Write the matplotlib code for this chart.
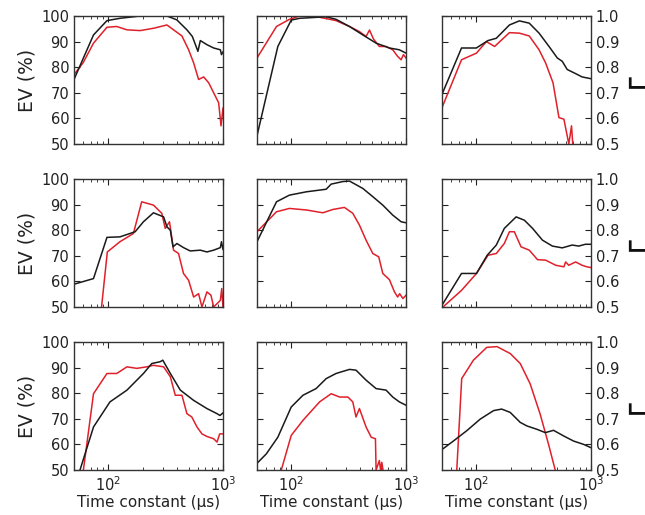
import numpy as np
import matplotlib
matplotlib.use('Agg')
import matplotlib.pyplot as plt
from matplotlib.ticker import FuncFormatter

# time constants (us) and EV values
# row 1
p11_bk_t = [50, 74, 97, 126, 189, 324, 395, 484, 540, 604, 634, 724, 829, 948, 970, 1000]
p11_bk = [75.2, 92.6, 98.2, 99.1, 100, 100, 98.5, 94.6, 92, 86.2, 90.4, 88.8, 87.5, 86.8, 84.9, 86]
p11_rd_t = [50, 60, 74, 97, 118, 145, 189, 247, 324, 370, 438, 501, 554, 612, 678, 750, 829, 916, 961, 1000]
p11_rd = [77.1, 81.7, 89.4, 95.6, 95.9, 94.6, 94.3, 95.2, 96.5, 94.6, 92.2, 86.8, 81.7, 75.2, 76.2, 73.9, 70, 66.1, 57.1, 64]

p12_bk_t = [50, 76, 99.5, 118, 201, 245, 321, 420, 548, 716, 875, 1000]
p12_bk = [53.2, 88.1, 98.4, 99.1, 99.7, 98.7, 95.9, 92.6, 89.4, 87.5, 86.8, 85.5]
p12_rd_t = [50, 74, 96, 118, 176, 245, 321, 392, 448, 480, 520, 585, 670, 766, 846, 906, 950, 1000]
p12_rd = [83.6, 95.9, 98.7, 100, 99.5, 98.2, 95.9, 93.9, 92, 94.5, 91, 88.1, 88.1, 86.8, 84.2, 82.9, 84.9, 83.6]

p13_bk_t = [50, 74, 99.7, 126, 149, 194, 237, 289, 352, 430, 508, 561, 620, 733, 836, 1000]
p13_bk = [0.694, 0.875, 0.875, 0.904, 0.913, 0.965, 0.981, 0.972, 0.933, 0.881, 0.836, 0.823, 0.791, 0.775, 0.762, 0.755]
p13_rd_t = [50, 74, 100, 122, 144, 194, 237, 289, 352, 402, 466, 525, 580, 640, 676, 700]
p13_rd = [0.642, 0.829, 0.855, 0.9, 0.881, 0.935, 0.933, 0.922, 0.868, 0.816, 0.739, 0.603, 0.597, 0.5, 0.571, 0.47]

# row 2
p21_bk_t = [50, 74, 97, 126, 171, 202, 247, 303, 324, 347, 366, 396, 452, 517, 634, 724, 829, 948, 970, 1000]
p21_bk = [58.9, 61.1, 77.2, 77.4, 79.4, 83.3, 86.8, 85.2, 81.3, 80, 73.5, 74.8, 73.2, 71.9, 72.2, 71.5, 72.2, 73.2, 75.5, 72.5]
p21_rd_t = [87, 97.7, 126, 165, 195, 247, 292, 313, 341, 370, 409, 452, 501, 554, 612, 655, 724, 785, 829, 948, 975, 1000]
p21_rd = [50, 71.5, 75.5, 78.7, 91.1, 89.8, 86.6, 80.7, 83.3, 72.2, 70.9, 63.1, 60.4, 53.9, 55.2, 50, 55.9, 54.6, 50, 52.6, 57.2, 50]

p22_bk_t = [50, 74, 96, 135, 201, 222, 281, 321, 420, 513, 627, 766, 906, 1000]
p22_bk = [75.5, 91.1, 93.7, 95, 96, 98, 99, 99.2, 96.3, 93.1, 89.8, 85.9, 83.3, 82.9]
p22_rd_t = [50, 74, 96, 135, 188, 230, 290, 343, 392, 448, 513, 578, 627, 716, 793, 846, 880, 940, 1000]
p22_rd = [79.4, 87.2, 88.5, 87.9, 86.8, 88.1, 88.9, 86.6, 82, 76.1, 70.9, 69.6, 63.1, 60.7, 55.9, 53.9, 55.2, 53.3, 54.6]

p23_bk_t = [50, 74, 100, 124, 149, 175, 222, 262, 309, 377, 460, 561, 685, 782, 893, 1000]
p23_bk = [0.507, 0.631, 0.631, 0.702, 0.742, 0.807, 0.852, 0.839, 0.807, 0.761, 0.738, 0.731, 0.742, 0.738, 0.745, 0.745]
p23_rd_t = [51, 74, 100, 126, 149, 175, 194, 214, 245, 289, 341, 402, 492, 580, 600, 640, 733, 836, 920, 1000]
p23_rd = [0.5, 0.565, 0.631, 0.702, 0.709, 0.748, 0.794, 0.794, 0.735, 0.722, 0.685, 0.683, 0.663, 0.657, 0.676, 0.663, 0.676, 0.663, 0.657, 0.654]

# row 3
p31_bk_t = [56.4, 74, 103, 145, 202, 239, 283, 298, 347, 424, 554, 724, 887, 940, 1000]
p31_bk = [50, 66.8, 76.6, 81.2, 87.7, 91.6, 92.3, 92.9, 87.7, 81.2, 77.2, 74, 72, 71.3, 72.3]
p31_rd_t = [60.4, 74, 97, 118, 145, 177, 216, 247, 303, 347, 383, 438, 484, 534, 593, 655, 724, 829, 887, 935, 1000]
p31_rd = [50, 79.8, 87.7, 87.7, 90.3, 89.7, 90.3, 90.9, 90.3, 86.4, 79.2, 79.2, 72, 70.7, 66.8, 64.1, 63.1, 62.2, 60.9, 64.1, 64.1]

p32_bk_t = [50, 60.3, 76, 99.5, 126, 164, 201, 245, 321, 366, 448, 548, 670, 766, 875, 1000]
p32_bk = [52.6, 56.3, 62.8, 74.6, 79.2, 81.8, 85.7, 87.7, 89.3, 89, 85.1, 81.8, 81.2, 78.5, 76.6, 75.3]
p32_rd_t = [81.5, 99.5, 126, 176, 222, 263, 311, 343, 366, 392, 448, 497, 541, 548, 585, 600, 615, 630]
p32_rd = [50, 63.5, 69.4, 76.6, 79.8, 78.5, 78.5, 76.6, 70.7, 74, 66.8, 62.8, 62.2, 50, 53.7, 50, 53, 50]

p33_bk_t = [50, 62.8, 82, 108, 141, 166, 197, 241, 276, 337, 399, 471, 577, 705, 863, 1000]
p33_bk = [0.58, 0.613, 0.653, 0.699, 0.732, 0.738, 0.725, 0.686, 0.672, 0.659, 0.646, 0.655, 0.633, 0.613, 0.6, 0.587]
p33_rd_t = [67.3, 74.3, 94, 123, 151, 197, 241, 294, 360, 426, 487]
p33_rd = [0.5, 0.857, 0.929, 0.979, 0.982, 0.955, 0.916, 0.837, 0.718, 0.6, 0.5]

panels = [
    [(p11_bk_t, p11_bk, p11_rd_t, p11_rd), (p12_bk_t, p12_bk, p12_rd_t, p12_rd), (p13_bk_t, p13_bk, p13_rd_t, p13_rd)],
    [(p21_bk_t, p21_bk, p21_rd_t, p21_rd), (p22_bk_t, p22_bk, p22_rd_t, p22_rd), (p23_bk_t, p23_bk, p23_rd_t, p23_rd)],
    [(p31_bk_t, p31_bk, p31_rd_t, p31_rd), (p32_bk_t, p32_bk, p32_rd_t, p32_rd), (p33_bk_t, p33_bk, p33_rd_t, p33_rd)],
]

W, H = 645, 515
col_left = [74, 257, 442]
row_top = [16, 179, 342]
aw, ah = 149, 128

fig = plt.figure(figsize=(W / 100, H / 100), dpi=100)

for r in range(3):
    for c in range(3):
        ax = fig.add_axes([col_left[c] / W, (H - row_top[r] - ah) / H, aw / W, ah / H])
        bt, bv, rt, rv = panels[r][c]
        ax.plot(rt, rv, color='#e0202a', lw=1.1)
        ax.plot(bt, bv, color='#1a1a1a', lw=1.1)
        ax.set_xscale('log')
        ax.set_xlim(50, 1000)
        if c == 2:
            ax.set_ylim(0.5, 1.0)
            ax.set_yticks([0.5, 0.6, 0.7, 0.8, 0.9, 1.0])
            ax.yaxis.set_major_formatter(FuncFormatter(lambda v, p: '%.1f' % v))
        else:
            ax.set_ylim(50, 100)
            ax.set_yticks([50, 60, 70, 80, 90, 100])
        ax.tick_params(which='both', direction='in', top=True, right=True,
                       labelsize=10.5, colors='#222222')
        ax.tick_params(which='major', length=4)
        ax.tick_params(which='minor', length=2)
        ax.tick_params(axis='y', labelleft=(c == 0), labelright=(c == 2))
        ax.tick_params(axis='x', labelbottom=(r == 2))
        for s in ax.spines.values():
            s.set_color('#333333')
            s.set_linewidth(1.0)
        if c == 0:
            ax.set_ylabel('EV (%)', fontsize=13.5, color='#222222', labelpad=3)
        if r == 2:
            ax.set_xlabel('Time constant (µs)', fontsize=11, color='#222222', labelpad=1)
        if c == 2:
            ax.text(1.225, 0.44, '┗━', transform=ax.transAxes, fontsize=12.5,
                    color='#111111', va='center', ha='left')

fig.savefig('out.png', dpi=100)
